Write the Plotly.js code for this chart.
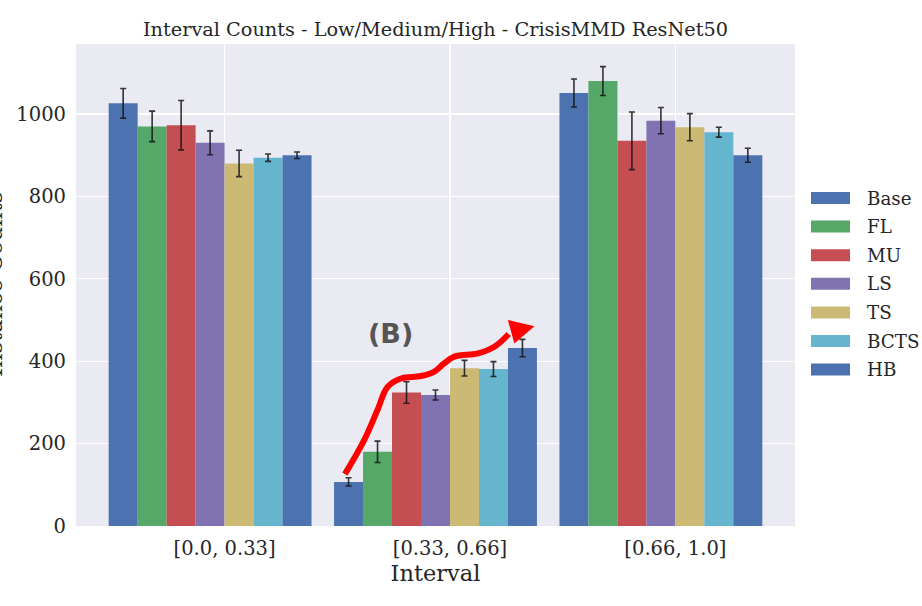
<!DOCTYPE html>
<html>
<head>
<meta charset="utf-8">
<script src="https://cdn.plot.ly/plotly-3.0.1.min.js"></script>
<style>html,body{margin:0;padding:0;background:#fff;}#chart{width:922px;height:606px;}</style>
</head>
<body>
<div id="chart"></div>
<script>
// ---- data ----
const categories = ['[0.0, 0.33]', '[0.33, 0.66]', '[0.66, 1.0]'];
const seriesNames = ['Base', 'FL', 'MU', 'LS', 'TS', 'BCTS', 'HB'];
const seriesColors = ['#4C72B0', '#55A868', '#C44E52', '#8172B2', '#CCB974', '#64B5CD', '#4C72B0'];

const baseVals = [1026, 107, 1051];  const baseErr = [36, 10, 34];
const flVals   = [970, 180, 1080];   const flErr   = [37, 26, 35];
const muVals   = [973, 324, 935];    const muErr   = [60, 26, 70];
const lsVals   = [930, 318, 984];    const lsErr   = [29, 12, 32];
const tsVals   = [880, 383, 968];    const tsErr   = [32, 19, 33];
const bctsVals = [894, 381, 956];    const bctsErr = [9, 18, 12];
const hbVals   = [900, 432, 900];    const hbErr   = [8, 21, 17];

const seriesValues = [baseVals, flVals, muVals, lsVals, tsVals, bctsVals, hbVals];
const seriesErrors = [baseErr, flErr, muErr, lsErr, tsErr, bctsErr, hbErr];

// annotation arrow "(B)" (data coordinates)
const arrowX = [0.598, 0.684, 0.743, 0.788, 0.847, 0.936, 0.995, 1.039, 1.084, 1.188, 1.261, 1.325];
const arrowY = [126, 209, 282, 338, 358, 364, 375, 395, 411, 419, 435, 466];
const arrowHeadX = [1.321, 1.439, 1.350];
const arrowHeadY = [500, 485, 443];
const labelB = '(B)';

// ---- layout constants ----
const W = 922, H = 606;
const M = {l: 76, r: 127, t: 44, b: 80};
const plotW = W - M.l - M.r, plotH = H - M.t - M.b;
const groupWidth = 0.9;
const barW = groupWidth / seriesNames.length;
const xpos = categories.map((c, i) => i);
const FONT = 'DejaVu Serif';
const TXT = '#262626';

const traces = seriesNames.map((name, k) => ({
  type: 'bar',
  name: name,
  x: xpos,
  y: seriesValues[k],
  marker: {color: seriesColors[k], line: {width: 0}},
  error_y: {type: 'data', array: seriesErrors[k], visible: true,
            color: 'rgba(20,20,20,0.85)', thickness: 1.6, width: 3},
  showlegend: false,
  hoverinfo: 'name+y'
}));

traces.push({
  type: 'scatter', mode: 'lines', x: arrowX, y: arrowY,
  line: {color: '#ff0000', width: 6, shape: 'spline', smoothing: 1.1},
  showlegend: false, hoverinfo: 'skip'
});

// custom legend (wide swatches like matplotlib)
const px2x = px => (px - M.l) / plotW;
const py2y = py => (H - M.b - py) / plotH;
const shapes = [];
const annotations = [];
seriesNames.forEach((name, i) => {
  const cy = 198 + 28.6 * i;
  shapes.push({type: 'rect', xref: 'paper', yref: 'paper',
    x0: px2x(811), x1: px2x(850), y0: py2y(cy + 6), y1: py2y(cy - 6),
    fillcolor: seriesColors[i], line: {width: 0}});
  annotations.push({xref: 'paper', yref: 'paper', x: px2x(865), y: py2y(cy),
    xanchor: 'left', yanchor: 'middle', text: name, showarrow: false,
    font: {family: FONT, size: 18.3, color: TXT}});
});

// arrowhead
shapes.push({type: 'path', xref: 'x', yref: 'y',
  path: 'M' + arrowHeadX.map((x, i) => x + ',' + arrowHeadY[i]).join(' L') + ' Z',
  fillcolor: '#ff0000', line: {width: 0}});

annotations.push({xref: 'x', yref: 'y', x: 0.802, y: 467, text: '<b>' + labelB + '</b>',
  showarrow: false, font: {family: 'DejaVu Sans', size: 27, color: '#555555'}});

// y-axis title (partially cut off at the left edge, as in the reference)
annotations.push({xref: 'paper', yref: 'paper', x: px2x(-6), y: 0.5, textangle: -90,
  xanchor: 'center', yanchor: 'middle', text: 'Instance Counts', showarrow: false,
  font: {family: FONT, size: 22.5, color: TXT}});

const layout = {
  width: W, height: H,
  margin: M,
  paper_bgcolor: '#ffffff',
  plot_bgcolor: '#EAEAF2',
  barmode: 'group', bargap: 1 - groupWidth, bargroupgap: 0,
  showlegend: false,
  title: {text: 'Interval Counts - Low/Medium/High - CrisisMMD ResNet50',
          font: {family: FONT, size: 19.3, color: TXT},
          x: 0.5, xref: 'paper', y: 1 - 29 / H, yref: 'container', yanchor: 'middle'},
  xaxis: {
    range: [-0.595, 2.595],
    tickmode: 'array', tickvals: xpos.map(v => v + barW / 2), ticktext: categories,
    showgrid: true, gridcolor: '#ffffff', gridwidth: 1.3,
    zeroline: false, showline: false, ticks: '',
    ticklabelstandoff: 8,
    tickfont: {family: FONT, size: 19.5, color: TXT},
    title: {text: 'Interval', font: {family: FONT, size: 22.5, color: TXT}, standoff: 3},
    automargin: false
  },
  yaxis: {
    range: [0, 1170],
    tickvals: [0, 200, 400, 600, 800, 1000],
    showgrid: true, gridcolor: '#ffffff', gridwidth: 1.3,
    zeroline: false, showline: false, ticks: '',
    ticklabelstandoff: 9,
    tickfont: {family: FONT, size: 19.5, color: TXT},
    automargin: false
  },
  shapes: shapes,
  annotations: annotations
};

Plotly.newPlot('chart', traces, layout, {displayModeBar: false, staticPlot: true});
</script>
</body>
</html>
